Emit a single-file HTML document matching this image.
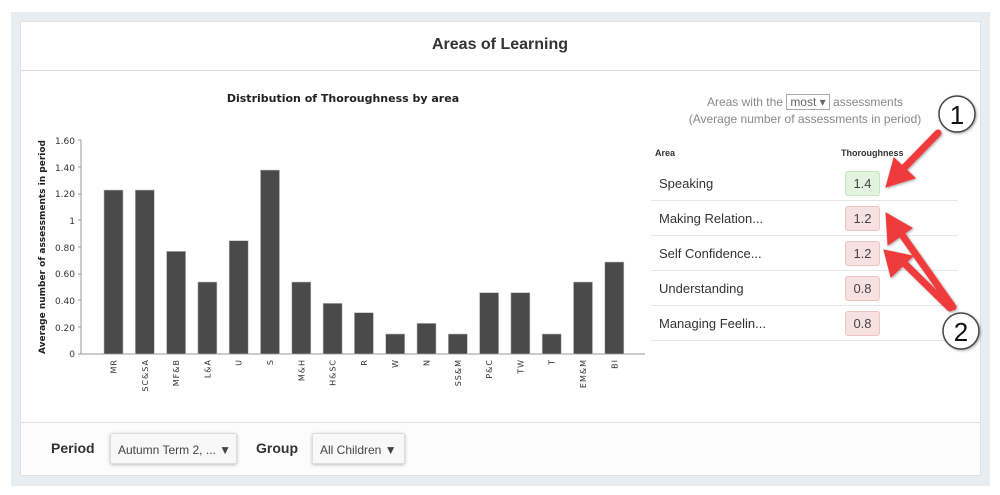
<!DOCTYPE html>
<html><head><meta charset="utf-8"><style>
body{margin:0;width:1000px;height:495px;background:#fff;font-family:"Liberation Sans",sans-serif;position:relative;overflow:hidden}
.frame{position:absolute;left:11px;top:12px;width:979px;height:474px;background:#e8edf1}
.panel{position:absolute;left:20px;top:21px;width:961px;height:455px;background:#fff;border:1px solid #dde1e4;box-sizing:border-box}
.abs{position:absolute}
.badge{position:absolute;left:845px;width:33px;height:23px;border-radius:3px;font-size:13px;text-align:center;line-height:23px;color:#444}
.red{background:#f6e0e0;border:1px solid #ebc4c4}
.green{background:#e3f4de;border:1px solid #c8e6bf}
.row{position:absolute;left:659px;font-size:13px;color:#333}
.sep{position:absolute;left:651px;width:307px;height:1px;background:#e6e6e6}
.btn{position:absolute;top:433px;height:31px;background:#f8f8f8;border:1px solid #ddd;box-shadow:0 1px 3px rgba(0,0,0,.25);font-size:12px;color:#444;line-height:33px;padding-left:7px;box-sizing:border-box;border-radius:2px}
</style></head><body>
<div class="frame"></div>
<div class="panel"></div>
<div class="abs" style="left:21px;top:70px;width:959px;height:1px;background:#ddd"></div>
<div class="abs" style="left:21px;top:422px;width:959px;height:1px;background:#ddd"></div>
<div class="abs" style="left:21px;top:423px;width:959px;height:52px;background:#fcfcfc"></div>
<div class="abs" style="left:0;width:1000px;top:36px;text-align:center;font-size:16px;font-weight:bold;color:#333">Areas of Learning</div>
<div class="abs" style="left:51px;top:440px;font-size:14px;font-weight:bold;color:#333">Period</div>
<div class="btn" style="left:110px;width:127px">Autumn Term 2, ... ▼</div>
<div class="abs" style="left:256px;top:440px;font-size:14px;font-weight:bold;color:#333">Group</div>
<div class="btn" style="left:312px;width:93px">All Children ▼</div>

<svg class="abs" style="left:0;top:0" width="1000" height="495">
<text x="343" y="102" font-size="11" font-weight="bold" text-anchor="middle" fill="#222" font-family="DejaVu Sans">Distribution of Thoroughness by area</text>
<g font-family="DejaVu Sans" font-size="9" fill="#333" text-anchor="end">
<text x="75" y="144">1.60</text><text x="75" y="171">1.40</text><text x="75" y="197">1.20</text><text x="75" y="224">1</text><text x="75" y="251">0.80</text><text x="75" y="277">0.60</text><text x="75" y="304">0.40</text><text x="75" y="331">0.20</text><text x="75" y="357">0</text>
</g>
<g stroke="#999"><line x1="81" y1="140" x2="81" y2="354"/><line x1="81" y1="354" x2="645" y2="354"/>
<line x1="78" y1="140" x2="81" y2="140"/><line x1="78" y1="167" x2="81" y2="167"/><line x1="78" y1="194" x2="81" y2="194"/><line x1="78" y1="220" x2="81" y2="220"/><line x1="78" y1="247" x2="81" y2="247"/><line x1="78" y1="274" x2="81" y2="274"/><line x1="78" y1="300" x2="81" y2="300"/><line x1="78" y1="327" x2="81" y2="327"/><line x1="78" y1="354" x2="81" y2="354"/></g>
<text transform="translate(45,247) rotate(-90)" font-size="9" font-weight="bold" text-anchor="middle" fill="#222" font-family="DejaVu Sans">Average number of assessments in period</text>
<g fill="#4a4a4a" stroke="#bbb" stroke-width="0.6" id="bars"></g>
<g font-size="8" fill="#333" font-family="DejaVu Sans" letter-spacing="1" id="labs"></g>
<script>
var v=[1.23,1.23,.77,.54,.85,1.38,.54,.38,.31,.15,.23,.15,.46,.46,.15,.54,.69];
var l=["MR","SC&SA","MF&B","L&A","U","S","M&H","H&SC","R","W","N","SS&M","P&C","TW","T","EM&M","BI"];
var b=document.getElementById('bars'),t=document.getElementById('labs'),ns="http://www.w3.org/2000/svg";
for(var i=0;i<17;i++){var c=113.5+i*31.3,h=v[i]*133.3;var r=document.createElementNS(ns,'rect');r.setAttribute('x',c-9.5);r.setAttribute('width',19);r.setAttribute('y',354-h);r.setAttribute('height',h);b.appendChild(r);
var x=document.createElementNS(ns,'text');x.setAttribute('transform','translate('+(c+3)+',359) rotate(-90)');x.setAttribute('text-anchor','end');x.textContent=l[i];t.appendChild(x);}
</script>
</svg>

<div class="abs" style="left:650px;width:310px;top:94px;text-align:center;font-size:12px;color:#888;line-height:17px">Areas with the <span style="border:1px solid #aaa;padding:0 3px;color:#666">most ▾</span> assessments<br>(Average number of assessments in period)</div>
<div class="abs" style="left:655px;top:148px;font-size:9px;font-weight:bold;color:#333">Area</div>
<div class="abs" style="left:841px;top:148px;font-size:9px;font-weight:bold;color:#333">Thoroughness</div>
<div class="row" style="top:176px">Speaking</div>
<div class="row" style="top:211px">Making Relation...</div>
<div class="row" style="top:246px">Self Confidence...</div>
<div class="row" style="top:281px">Understanding</div>
<div class="row" style="top:316px">Managing Feelin...</div>
<div class="sep" style="top:200px"></div><div class="sep" style="top:235px"></div><div class="sep" style="top:270px"></div><div class="sep" style="top:305px"></div><div class="sep" style="top:340px"></div>
<div class="badge green" style="top:171px">1.4</div>
<div class="badge red" style="top:206px">1.2</div>
<div class="badge red" style="top:241px">1.2</div>
<div class="badge red" style="top:276px">0.8</div>
<div class="badge red" style="top:311px">0.8</div>

<svg class="abs" style="left:0;top:0" width="1000" height="495">
<defs><filter id="s"><feDropShadow dx="1" dy="1" stdDeviation="1.2" flood-opacity="0.35"/></filter></defs>
<g fill="#ef3b3b" stroke="#ef3b3b" stroke-width="7" stroke-linecap="round" filter="url(#s)">
<line x1="938" y1="133" x2="900" y2="172"/><polygon points="886,187 894,158 915,178" stroke-width="1"/>
<line x1="953" y1="307" x2="900" y2="232"/><polygon points="886,213 888,245 912,228" stroke-width="1"/>
<line x1="950" y1="308" x2="903" y2="262"/><polygon points="884,250 891,277 913,256" stroke-width="1"/>
</g>
<g filter="url(#s)"><circle cx="957" cy="114" r="18" fill="#fff" stroke="#444" stroke-width="1.5"/><circle cx="961" cy="331" r="18" fill="#fff" stroke="#444" stroke-width="1.5"/></g>
<text x="957" y="124" font-size="26" text-anchor="middle" fill="#111">1</text>
<text x="961" y="341" font-size="26" text-anchor="middle" fill="#111">2</text>
</svg>
</body></html>
